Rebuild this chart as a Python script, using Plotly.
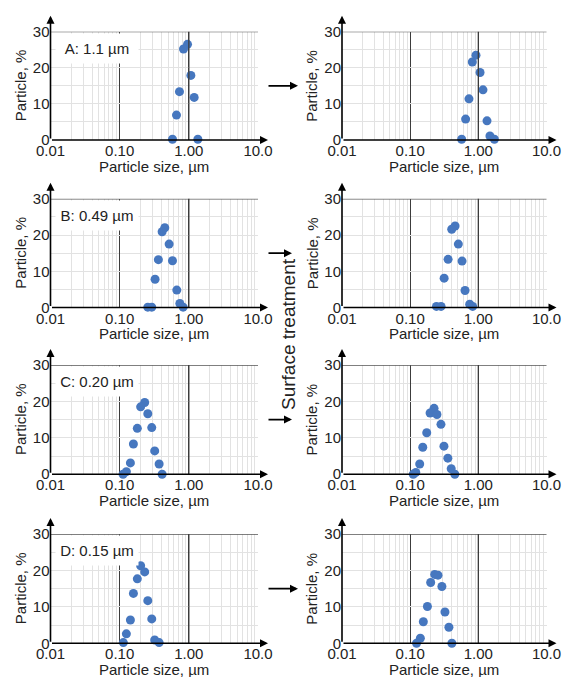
import plotly.graph_objects as go

W, H = 563, 677

# Particle size distributions (size in µm, share in %) before and after surface treatment
a_before_size = [0.957, 0.837, 1.07, 0.732, 1.195, 0.663, 0.58, 1.35]
a_before_pct = [26.5, 25.2, 17.9, 13.4, 11.8, 6.9, 0.2, 0.2]
a_after_size = [0.924, 0.816, 1.06, 1.17, 0.729, 0.651, 1.34, 0.569, 1.48, 1.72]
a_after_pct = [23.5, 21.6, 18.7, 13.9, 11.4, 5.8, 5.3, 0.2, 1.1, 0.2]

b_before_size = [0.449, 0.411, 0.519, 0.363, 0.580, 0.325, 0.670, 0.741, 0.828, 0.255, 0.291]
b_before_pct = [22.0, 20.9, 17.5, 13.2, 12.9, 7.8, 4.8, 1.1, 0.1, 0.1, 0.1]
b_after_size = [0.456, 0.407, 0.509, 0.360, 0.577, 0.315, 0.638, 0.747, 0.826, 0.243, 0.284]
b_after_pct = [22.5, 21.6, 17.5, 13.3, 12.8, 8.1, 4.7, 0.9, 0.3, 0.3, 0.3]

c_before_size = [0.230, 0.201, 0.255, 0.180, 0.291, 0.158, 0.321, 0.143, 0.372, 0.125, 0.112, 0.411]
c_before_pct = [19.7, 18.5, 16.6, 12.6, 12.8, 8.3, 6.4, 3.1, 2.8, 0.7, 0.0, 0.0]
c_after_size = [0.224, 0.196, 0.247, 0.283, 0.175, 0.313, 0.153, 0.357, 0.138, 0.400, 0.121, 0.111, 0.452]
c_after_pct = [18.1, 16.8, 16.4, 13.7, 11.4, 7.7, 7.4, 4.4, 2.8, 1.5, 0.5, 0.0, 0.0]

d_before_size = [0.201, 0.230, 0.180, 0.158, 0.255, 0.143, 0.291, 0.125, 0.321, 0.372, 0.113]
d_before_pct = [21.3, 19.6, 17.7, 13.7, 11.7, 6.4, 6.7, 2.6, 0.9, 0.2, 0.2]
d_after_size = [0.229, 0.256, 0.200, 0.292, 0.179, 0.324, 0.156, 0.370, 0.141, 0.124, 0.409]
d_after_pct = [18.9, 18.7, 16.7, 15.6, 10.1, 8.6, 5.9, 4.4, 1.4, 0.0, 0.0]

sample_labels = ["A: 1.1 µm", "B: 0.49 µm", "C: 0.20 µm", "D: 0.15 µm"]

x_tickvals = [0.01, 0.1, 1, 10]
x_ticktext = ["0.01", "0.10", "1.00", "10.0"]
y_tickvals = [0, 10, 20, 30]
y_minor = [5, 15, 25]
x_minor = [m * 10 ** e for e in (-2, -1, 0) for m in range(2, 10)]

series = [
    (a_before_size, a_before_pct), (a_after_size, a_after_pct),
    (b_before_size, b_before_pct), (b_after_size, b_after_pct),
    (c_before_size, c_before_pct), (c_after_size, c_after_pct),
    (d_before_size, d_before_pct), (d_after_size, d_after_pct),
]

# panel placement in pixels
col_px = [(50.5, 258.0), (342.0, 546.5)]
row_px = [(31.7, 140.0), (198.8, 307.5), (365.0, 474.2), (534.0, 643.3)]

FONT = "Liberation Sans, Arial, sans-serif"
TEXT = "#222222"
MARKER = "#4677BF"
DARK = "#3c3c3c"
LIGHT = "#e2e2e2"

fig = go.Figure()
layout = dict(
    width=W, height=H, margin=dict(l=0, r=0, t=0, b=0),
    paper_bgcolor="white", plot_bgcolor="white", showlegend=False,
    font=dict(family=FONT, size=15, color=TEXT),
)
shapes, annotations = [], []

for i, (sx, sy) in enumerate(series):
    r, c = divmod(i, 2)
    n = i + 1
    xa = "x" if n == 1 else f"x{n}"
    ya = "y" if n == 1 else f"y{n}"
    xk = "xaxis" if n == 1 else f"xaxis{n}"
    yk = "yaxis" if n == 1 else f"yaxis{n}"
    x0, x1 = col_px[c]
    top, bot = row_px[r]
    decade = (x1 - x0) / 3.0
    unit = (bot - top) / 30.0

    fig.add_trace(go.Scatter(
        x=sx, y=sy, mode="markers", xaxis=xa, yaxis=ya,
        marker=dict(size=9, color=MARKER), cliponaxis=False,
    ))

    layout[xk] = dict(
        domain=[x0 / W, x1 / W], anchor=ya, type="log", range=[-2, 1],
        tickmode="array", tickvals=x_tickvals, ticktext=x_ticktext,
        showgrid=True, gridcolor=DARK, gridwidth=1.3,
        minor=dict(tickmode="array", tickvals=x_minor, showgrid=True,
                   gridcolor=LIGHT, gridwidth=1),
        showline=False, zeroline=False, ticks="",
        tickfont=dict(size=15), automargin=False, fixedrange=True,
    )
    layout[yk] = dict(
        domain=[1 - bot / H, 1 - top / H], anchor=xa, range=[0, 30],
        tickmode="array", tickvals=y_tickvals,
        showgrid=True, gridcolor=LIGHT, gridwidth=1,
        minor=dict(tickmode="array", tickvals=y_minor, showgrid=True,
                   gridcolor=LIGHT, gridwidth=1),
        showline=False, zeroline=False, ticks="",
        tickfont=dict(size=15), automargin=False, fixedrange=True,
    )

    # axis titles
    annotations.append(dict(
        text="Particle size, µm", xref="paper", yref="paper",
        x=(x0 + x1) / 2 / W, y=1 - (bot + 26) / H,
        xanchor="center", yanchor="middle", showarrow=False,
        font=dict(size=15, color=TEXT)))
    annotations.append(dict(
        text="Particle, %", xref="paper", yref="paper",
        x=(x0 - 30) / W, y=1 - (top + bot) / 2 / H, textangle=-90,
        xanchor="center", yanchor="middle", showarrow=False,
        font=dict(size=15, color=TEXT)))

    # frame: top edge and right edge
    shapes.append(dict(type="line", xref=f"{xa} domain", yref=ya,
                       x0=0, x1=1, y0=30, y1=30,
                       line=dict(color="#555555", width=1.3)))
    shapes.append(dict(type="line", xref=xa, yref=f"{ya} domain",
                       x0=1, x1=1, y0=0, y1=1,
                       line=dict(color=DARK, width=1.3)))

    # axis arrows
    annotations.append(dict(
        x=-2, y=30 + 16 / unit, xref=xa, yref=ya,
        ax=-2, ay=0, axref=xa, ayref=ya, text="", showarrow=True,
        arrowhead=2, arrowsize=1, arrowwidth=1.6, arrowcolor="black"))
    annotations.append(dict(
        x=1 + 10 / decade, y=0, xref=xa, yref=ya,
        ax=-2, ay=0, axref=xa, ayref=ya, text="", showarrow=True,
        arrowhead=2, arrowsize=1, arrowwidth=1.6, arrowcolor="black"))

    if c == 0:
        annotations.append(dict(
            text=sample_labels[r], xref=f"{xa} domain", yref=f"{ya} domain",
            x=(55 - x0) / (x1 - x0), y=1 - 16.5 / (bot - top),
            xanchor="left", yanchor="middle", showarrow=False,
            bgcolor="white", width=80, height=27, align="center",
            font=dict(size=15, color=TEXT)))

# arrows between the columns, one per row at the panel centre height
for r, (top, bot) in enumerate(row_px):
    yp = (top + bot) / 2
    tip = 298 if r in (0, 3) else 292
    annotations.append(dict(
        x=tip / W, y=1 - yp / H, xref="paper", yref="paper",
        ax=-(tip - 267), ay=0, text="", showarrow=True,
        arrowhead=2, arrowsize=1, arrowwidth=1.6, arrowcolor="black"))

annotations.append(dict(
    text="Surface treatment", xref="paper", yref="paper",
    x=288 / W, y=1 - 334 / H, textangle=-90, showarrow=False,
    font=dict(size=19, color=TEXT)))

layout["shapes"] = shapes
layout["annotations"] = annotations
fig.update_layout(**layout)
fig.write_html("out.html")
